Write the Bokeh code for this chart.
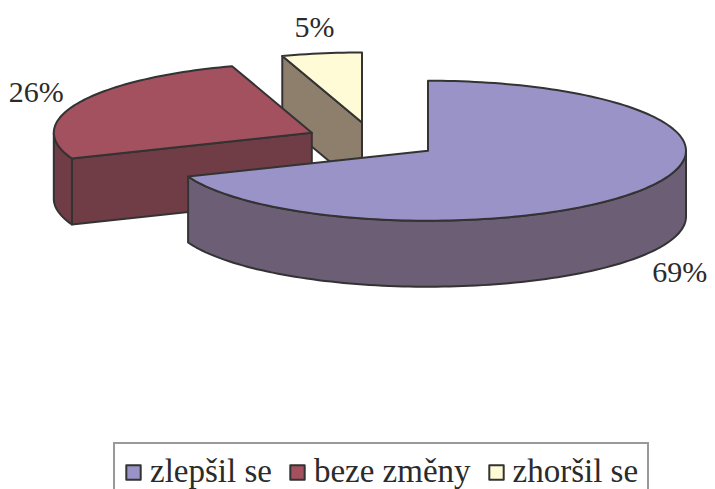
import math
from bokeh.plotting import figure
from bokeh.models import ColumnDataSource, Range1d, Legend, LegendItem
from bokeh.core.properties import value
from bokeh.embed import file_html
from bokeh.resources import INLINE

# ---- data ----
categories = ["zlepšil se", "beze změny", "zhoršil se"]
values = [69, 26, 5]
percent_labels = ["69%", "26%", "5%"]

# ---- styles ----
TOP = ["#9993C7", "#A3505F", "#FFFBD6"]
SIDE = ["#6B5E75", "#703D46", "#8E7E6C"]
OUTLINE = "#333333"
TEXT = "#2b2b2b"
FONT = "Liberation Serif"

# ---- layout ----
W, H = 715, 489
CX, CY = 372.0, 140.0
RX, RY = 258.0, 70.0
DEPTH = 66.0
EXPLODE = 0.26
LABEL_R = 1.18
LABEL_DY = 15.0

p = figure(width=W, height=H, x_range=Range1d(0, W), y_range=Range1d(H, 0),
           output_backend="svg", toolbar_location=None, x_axis_type=None, y_axis_type=None,
           min_border=0, outline_line_color=None)
p.xgrid.visible = False
p.ygrid.visible = False


def pt(ox, oy, ang, r=1.0, dz=0.0):
    t = math.radians(ang)
    return ox + RX * r * math.sin(t), oy - RY * r * math.cos(t) + dz


def arc(ox, oy, a0, a1, dz=0.0):
    n = max(2, int(abs(a1 - a0) / 1.5) + 2)
    xs, ys = [], []
    for k in range(n):
        a = a0 + (a1 - a0) * k / (n - 1)
        x, y = pt(ox, oy, a, 1.0, dz)
        xs.append(x)
        ys.append(y)
    return xs, ys


total = float(sum(values))
slices = []
start = 0.0
for i, v in enumerate(values):
    a0 = start
    a1 = start + 360.0 * v / total
    start = a1
    slices.append((i, a0, a1))

# paint back slices first
order = sorted(slices, key=lambda s: -math.cos(math.radians((s[1] + s[2]) / 2)))

fxs, fys, fcol = [], [], []
top_index = {}
lab_x, lab_y, lab_t = [], [], []

for i, a0, a1 in order:
    mid = (a0 + a1) / 2
    tm = math.radians(mid)
    ox = CX + RX * EXPLODE * math.sin(tm)
    oy = CY - RY * EXPLODE * math.cos(tm)

    # radial face at start angle
    if math.sin(math.radians(a0)) < -1e-6:
        ex, ey = pt(ox, oy, a0)
        fxs.append([ox, ex, ex, ox])
        fys.append([oy, ey, ey + DEPTH, oy + DEPTH])
        fcol.append(SIDE[i])
    # radial face at end angle
    if math.sin(math.radians(a1)) > 1e-6:
        ex, ey = pt(ox, oy, a1)
        fxs.append([ox, ex, ex, ox])
        fys.append([oy, ey, ey + DEPTH, oy + DEPTH])
        fcol.append(SIDE[i])
    # outer curved side (front-facing 90..270)
    s0, s1 = max(a0, 90.0), min(a1, 270.0)
    if s1 > s0:
        tx, ty = arc(ox, oy, s0, s1)
        bx, by = arc(ox, oy, s1, s0, DEPTH)
        fxs.append(tx + bx)
        fys.append(ty + by)
        fcol.append(SIDE[i])
    # top face
    tx, ty = arc(ox, oy, a0, a1)
    fxs.append([ox] + tx)
    fys.append([oy] + ty)
    fcol.append(TOP[i])
    top_index[i] = len(fxs) - 1

    lx = ox + RX * LABEL_R * math.sin(tm)
    ly = oy - (RY * LABEL_R + LABEL_DY) * math.cos(tm) + (DEPTH if math.cos(tm) < 0 else 0.0)
    lab_x.append(lx)
    lab_y.append(ly)
    lab_t.append(percent_labels[i])

src = ColumnDataSource(dict(xs=fxs, ys=fys, fill=fcol))
r = p.patches("xs", "ys", source=src, fill_color="fill", line_color=OUTLINE,
              line_width=2, line_join="round")

p.text(x=lab_x, y=lab_y, text=lab_t, text_font=value(FONT), text_font_size="30px",
       text_color=TEXT, text_align="center", text_baseline="middle")

legend = Legend(
    items=[LegendItem(label=categories[i], renderers=[r], index=top_index[i]) for i in range(len(categories))],
    orientation="horizontal", location=(113, -12),
    label_text_font=FONT, label_text_font_size="33px", label_text_color=TEXT,
    glyph_width=18, glyph_height=18, label_standoff=8, spacing=16, padding=9,
    border_line_color=OUTLINE, border_line_width=2, margin=0,
    background_fill_color="white", background_fill_alpha=1.0)
p.add_layout(legend)

open("out.html", "w").write(file_html(p, INLINE))
